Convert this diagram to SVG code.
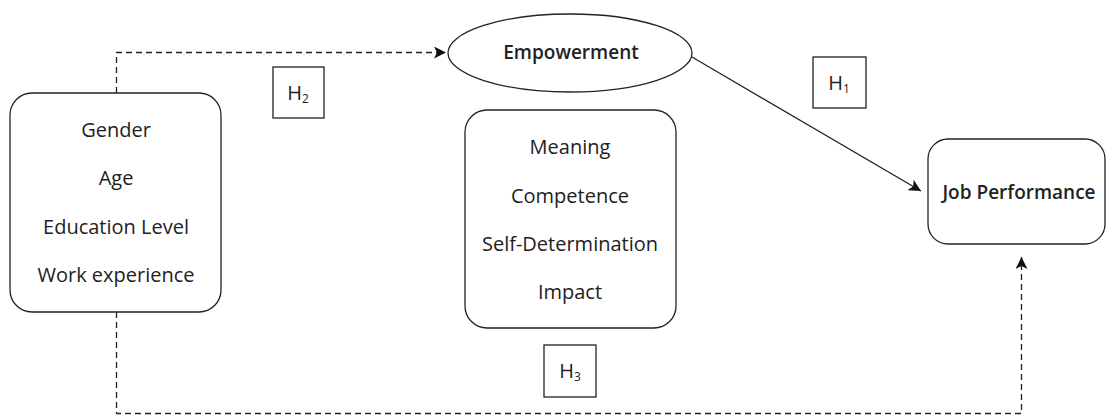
<svg xmlns="http://www.w3.org/2000/svg" width="1106" height="419" viewBox="0 0 1106 419">
<style>
.box{fill:#fff;stroke:#222;stroke-width:1.3}
.t{font-family:"Open Sans","Noto Sans",sans-serif;font-size:20px;fill:#222;text-anchor:middle}
.b{font-weight:600;font-size:19px}
.h{font-size:20px}
.sub{font-size:12px}
.dash{fill:none;stroke:#222;stroke-width:1.3;stroke-dasharray:6,4}
.solid{fill:none;stroke:#222;stroke-width:1.3}
</style>
<defs>
<marker id="ah" viewBox="0 0 12 12" refX="12" refY="6" markerWidth="12" markerHeight="12" markerUnits="userSpaceOnUse" orient="auto">
<path d="M0,0 L12,6 L0,12 L3,6 z" fill="#111"/>
</marker>
</defs>
<g id="connectors">
<path class="dash" d="M116.5,93 V52.5 H446" marker-end="url(#ah)"/>
<path class="solid" d="M692,57 L921,191" marker-end="url(#ah)"/>
<path class="dash" d="M116.5,312 V413.5 H1021.5 V257" marker-end="url(#ah)"/>
</g>
<g id="demographics">
<rect class="box" x="10" y="93" width="211" height="219" rx="22"/>
<text class="t" x="116" y="137">Gender</text>
<text class="t" x="116" y="185">Age</text>
<text class="t" x="116" y="234">Education Level</text>
<text class="t" x="116" y="282">Work experience</text>
</g>
<g id="empowerment">
<ellipse class="box" cx="570" cy="53" rx="122" ry="39"/>
<text class="t b" x="571" y="59">Empowerment</text>
</g>
<g id="dimensions">
<rect class="box" x="465" y="110" width="211" height="218" rx="22"/>
<text class="t" x="570" y="154">Meaning</text>
<text class="t" x="570" y="203">Competence</text>
<text class="t" x="570" y="251">Self-Determination</text>
<text class="t" x="570" y="299">Impact</text>
</g>
<g id="jobperformance">
<rect class="box" x="928" y="139" width="177" height="105" rx="20"/>
<text class="t b" x="1019" y="199">Job Performance</text>
</g>
<g id="h1">
<rect class="box" x="813" y="57" width="53" height="51"/>
<text class="t h" x="839" y="90">H<tspan class="sub" dy="3">1</tspan></text>
</g>
<g id="h2">
<rect class="box" x="273" y="67" width="51" height="51"/>
<text class="t h" x="298" y="100">H<tspan class="sub" dy="3">2</tspan></text>
</g>
<g id="h3">
<rect class="box" x="544" y="345" width="52" height="52"/>
<text class="t h" x="570" y="378">H<tspan class="sub" dy="3">3</tspan></text>
</g>
</svg>
